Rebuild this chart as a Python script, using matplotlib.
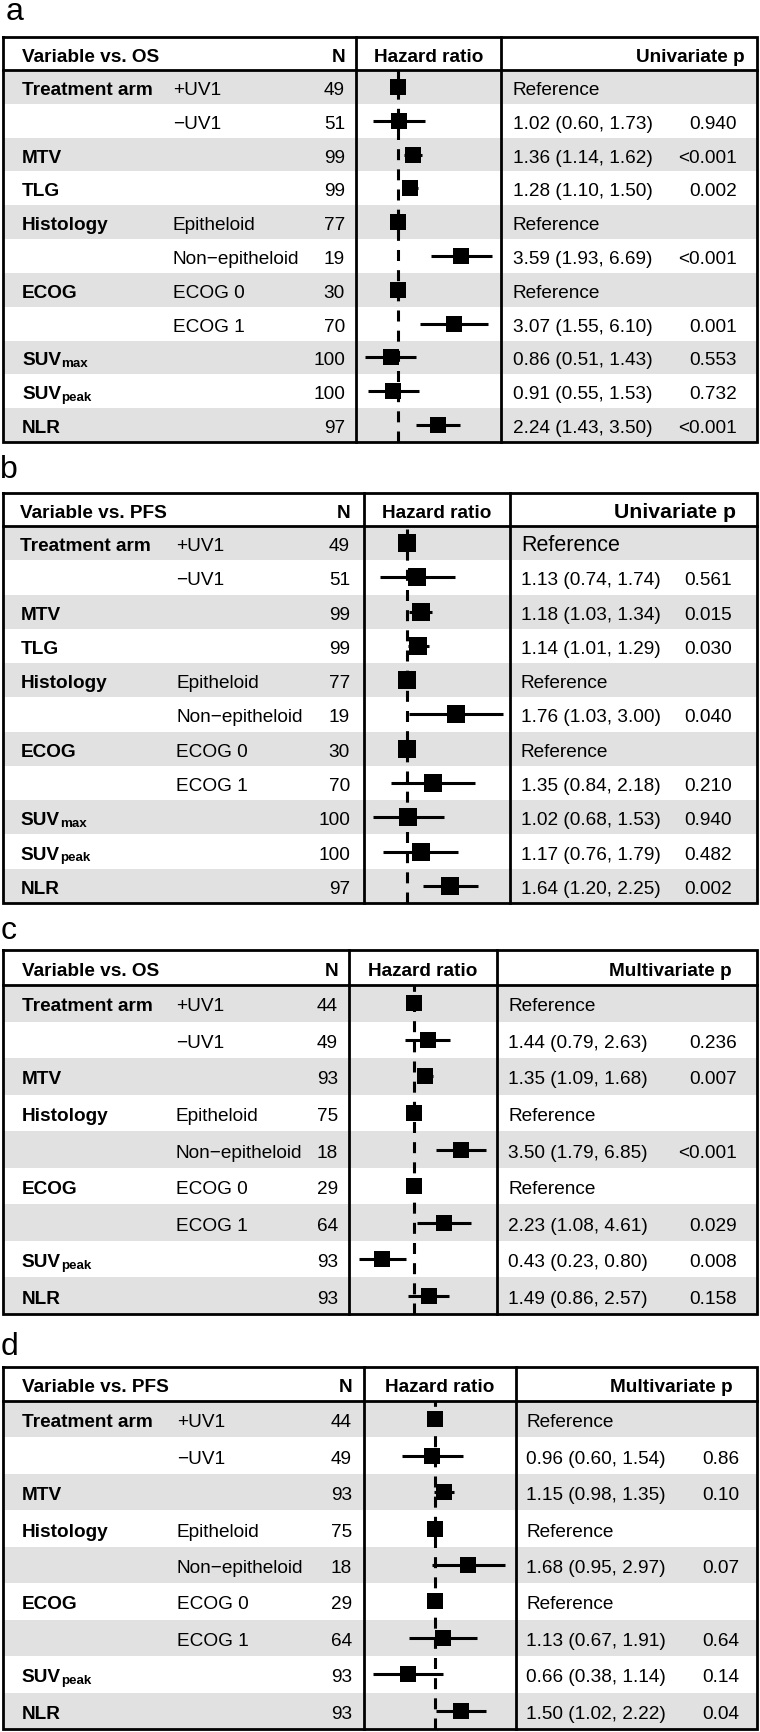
import numpy as np
import matplotlib
matplotlib.use('Agg')
import matplotlib.pyplot as plt
from matplotlib.patches import Rectangle
from matplotlib import font_manager as fm

plt.rcParams['font.family'] = ['Liberation Sans', 'DejaVu Sans']

# pick the normal-width bold face
_bold = [f.fname for f in fm.fontManager.ttflist
         if f.name == 'Liberation Sans' and f.weight == 700 and f.style == 'normal'
         and 'Narrow' not in f.fname and f.stretch == 'normal']


def bold(size):
    if _bold:
        return fm.FontProperties(fname=_bold[0], size=size)
    return fm.FontProperties(family='Liberation Sans', weight='bold', stretch='normal', size=size)


M = '\u2212'
nan = np.nan

# --- univariate (a: OS, b: PFS) ---
uni_var = ['Treatment arm', '', 'MTV', 'TLG', 'Histology', '', 'ECOG', '', 'SUV|max', 'SUV|peak', 'NLR']
uni_level = ['+UV1', M + 'UV1', '', '', 'Epitheloid', 'Non' + M + 'epitheloid', 'ECOG 0', 'ECOG 1', '', '', '']

os_uni_n = [49, 51, 99, 99, 77, 19, 30, 70, 100, 100, 97]
os_uni_hr = [nan, 1.02, 1.36, 1.28, nan, 3.59, nan, 3.07, 0.86, 0.91, 2.24]
os_uni_lo = [nan, 0.60, 1.14, 1.10, nan, 1.93, nan, 1.55, 0.51, 0.55, 1.43]
os_uni_hi = [nan, 1.73, 1.62, 1.50, nan, 6.69, nan, 6.10, 1.43, 1.53, 3.50]
os_uni_p = ['', '0.940', '<0.001', '0.002', '', '<0.001', '', '0.001', '0.553', '0.732', '<0.001']

pfs_uni_n = [49, 51, 99, 99, 77, 19, 30, 70, 100, 100, 97]
pfs_uni_hr = [nan, 1.13, 1.18, 1.14, nan, 1.76, nan, 1.35, 1.02, 1.17, 1.64]
pfs_uni_lo = [nan, 0.74, 1.03, 1.01, nan, 1.03, nan, 0.84, 0.68, 0.76, 1.20]
pfs_uni_hi = [nan, 1.74, 1.34, 1.29, nan, 3.00, nan, 2.18, 1.53, 1.79, 2.25]
pfs_uni_p = ['', '0.561', '0.015', '0.030', '', '0.040', '', '0.210', '0.940', '0.482', '0.002']

# --- multivariate (c: OS, d: PFS) ---
multi_var = ['Treatment arm', '', 'MTV', 'Histology', '', 'ECOG', '', 'SUV|peak', 'NLR']
multi_level = ['+UV1', M + 'UV1', '', 'Epitheloid', 'Non' + M + 'epitheloid', 'ECOG 0', 'ECOG 1', '', '']

os_multi_n = [44, 49, 93, 75, 18, 29, 64, 93, 93]
os_multi_hr = [nan, 1.44, 1.35, nan, 3.50, nan, 2.23, 0.43, 1.49]
os_multi_lo = [nan, 0.79, 1.09, nan, 1.79, nan, 1.08, 0.23, 0.86]
os_multi_hi = [nan, 2.63, 1.68, nan, 6.85, nan, 4.61, 0.80, 2.57]
os_multi_p = ['', '0.236', '0.007', '', '<0.001', '', '0.029', '0.008', '0.158']

pfs_multi_n = [44, 49, 93, 75, 18, 29, 64, 93, 93]
pfs_multi_hr = [nan, 0.96, 1.15, nan, 1.68, nan, 1.13, 0.66, 1.50]
pfs_multi_lo = [nan, 0.60, 0.98, nan, 0.95, nan, 0.67, 0.38, 1.02]
pfs_multi_hi = [nan, 1.54, 1.35, nan, 2.97, nan, 1.91, 1.14, 2.22]
pfs_multi_p = ['', '0.86', '0.10', '', '0.07', '', '0.64', '0.14', '0.04']

W, H = 760, 1732
GREY = '#e1e1e1'
LW = 2.0
FS = 13.7

fig = plt.figure(figsize=(W / 100, H / 100), dpi=100)
bg = fig.add_axes([0, 0, 1, 1])
bg.set_xlim(0, W)
bg.set_ylim(H, 0)
bg.axis('off')


def var_label(x, y, name):
    # "SUV|max" -> SUV with a small subscript
    if '|' in name:
        main, sub = name.split('|')
        t = bg.text(x, y, main, fontproperties=bold(FS), va='baseline')
        bg.annotate(sub, xy=(1, 0), xycoords=t, xytext=(0.4, 1.9), textcoords='offset points',
                    fontproperties=bold(9.6), va='baseline', ha='left')
    else:
        bg.text(x, y, name, fontproperties=bold(FS), va='baseline')


def panel(letter, lay, head, ptitle, var, level, n, hr, lo, hi, p):
    top, hb, bot = lay['top'], lay['hb'], lay['bot']
    xl, xr = 3, 757
    xn, xp = lay['xn'], lay['xp']
    nrow = len(n)
    rh = (bot - hb) / nrow
    bg.text(lay['labx'], lay['lab'], letter, fontsize=23, va='baseline', ha='left')
    for i in range(0, nrow, 2):
        bg.add_patch(Rectangle((xl, hb + i * rh), xr - xl, rh, fc=GREY, ec='none', zorder=0))
    kw = dict(color='k', lw=LW, zorder=3, solid_capstyle='projecting')
    bg.plot([xl, xr, xr, xl, xl], [top, top, bot, bot, top], solid_joinstyle='miter', **kw)
    bg.plot([xl, xr], [hb, hb], **kw)
    bg.plot([xn, xn], [top, bot], **kw)
    bg.plot([xp, xp], [top, bot], **kw)

    yh = (top + hb) / 2 + 8
    bg.text(lay['xv'], yh, head, fontproperties=bold(FS), va='baseline')
    bg.text(lay['xnum'], yh, 'N', fontproperties=bold(FS), va='baseline', ha='right')
    bg.text((xn + xp) / 2, yh, 'Hazard ratio', fontproperties=bold(FS), va='baseline', ha='center')
    bg.text(lay['xph'], yh, ptitle, fontproperties=bold(lay.get('fs_ph', FS)), va='baseline', ha='right')

    for i in range(nrow):
        y = hb + (i + 0.5) * rh + 8
        var_label(lay['xv'], y, var[i])
        bg.text(lay['xlev'], y, level[i], fontsize=FS, va='baseline')
        bg.text(lay['xnum'], y, str(n[i]), fontsize=FS, va='baseline', ha='right')
        if np.isnan(hr[i]):
            fs = lay.get('fs_ref0', FS) if i == 0 else FS
            bg.text(lay['xref'], y, 'Reference', fontsize=fs, va='baseline')
        else:
            bg.text(lay['xref'], y, f'{hr[i]:.2f} ({lo[i]:.2f}, {hi[i]:.2f})', fontsize=FS, va='baseline')
            bg.text(lay['xpv'], y, p[i], fontsize=FS, va='baseline', ha='right')

    # forest column on a log axis
    ax = fig.add_axes([xn / W, 1 - bot / H, (xp - xn) / W, (bot - hb) / H])
    ax.set_xscale('log')
    s, x1 = lay['s'], lay['x1']
    ax.set_xlim(np.exp((xn - x1) / s), np.exp((xp - x1) / s))
    ax.set_ylim(nrow - 0.5, -0.5)
    ax.axis('off')
    ax.axvline(1, color='k', lw=2.2, ls=(0, (3.6, 3.0)), zorder=1)
    hr = np.array(hr)
    lo = np.array(lo)
    hi = np.array(hi)
    rows = np.arange(nrow)
    ref = np.isnan(hr)
    ms = lay['ms'] * 0.72
    ax.plot(np.ones(ref.sum()), rows[ref], 's', color='k', ms=ms, mew=0, zorder=3)
    est = ~ref
    ax.errorbar(hr[est], rows[est], xerr=[hr[est] - lo[est], hi[est] - hr[est]], fmt='s',
                color='k', ms=ms, mew=0, elinewidth=2.2, capsize=2.5, capthick=2.2, zorder=3)


lay_a = dict(top=37, hb=70, bot=442, xn=356, xp=501, x1=398, s=49.5, lab=20, labx=6,
             xv=22, xlev=173, xnum=345, xref=513, xpv=737, xph=745, ms=16)
lay_b = dict(top=493, hb=526, bot=903, xn=364, xp=510, x1=406.7, s=88, lab=478, labx=0,
             xv=20.5, xlev=176, xnum=350, xref=521, xpv=732, xph=736, ms=18, fs_ph=15.3, fs_ref0=15.5)
lay_c = dict(top=950, hb=985, bot=1314, xn=349, xp=497, x1=414, s=37.4, lab=939, labx=1,
             xv=21.7, xlev=175.7, xnum=338, xref=508, xpv=737, xph=732, ms=16)
lay_d = dict(top=1367, hb=1401, bot=1729, xn=364, xp=516, x1=435, s=64.3, lab=1355, labx=1,
             xv=21.8, xlev=177, xnum=352, xref=526, xpv=739, xph=733, ms=16)

panel('a', lay_a, 'Variable vs. OS', 'Univariate p', uni_var, uni_level,
      os_uni_n, os_uni_hr, os_uni_lo, os_uni_hi, os_uni_p)
panel('b', lay_b, 'Variable vs. PFS', 'Univariate p', uni_var, uni_level,
      pfs_uni_n, pfs_uni_hr, pfs_uni_lo, pfs_uni_hi, pfs_uni_p)
panel('c', lay_c, 'Variable vs. OS', 'Multivariate p', multi_var, multi_level,
      os_multi_n, os_multi_hr, os_multi_lo, os_multi_hi, os_multi_p)
panel('d', lay_d, 'Variable vs. PFS', 'Multivariate p', multi_var, multi_level,
      pfs_multi_n, pfs_multi_hr, pfs_multi_lo, pfs_multi_hi, pfs_multi_p)

fig.savefig('out.png', dpi=100)
